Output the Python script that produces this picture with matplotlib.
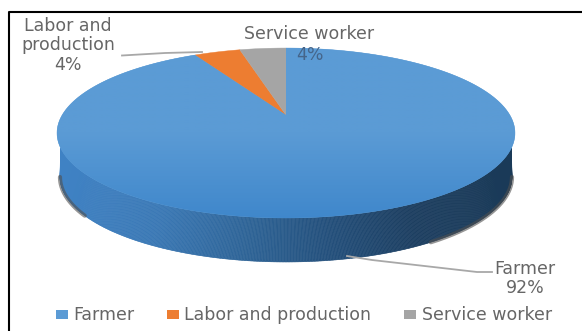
import matplotlib
matplotlib.use("Agg")
import matplotlib.pyplot as plt
import numpy as np
from matplotlib.collections import PolyCollection
from matplotlib.colors import LinearSegmentedColormap
from matplotlib.patches import Polygon, Rectangle

categories = ["Farmer", "Labor and production", "Service worker"]
shares = [92, 4, 4]
colors = ["#5b9bd5", "#ed7d31", "#a5a5a5"]

TEXT = "#666666"
LEADER = "#a8a8a8"
FONT_SIZE = 12.5

# tilted pie geometry, in pixels
CX, APEX_Y = 286, 115
TILT_K, TILT_A, TILT_B = 0.2118, -56.8, 223.8
DEPTH = 44
BASE_SCALE = 0.987


def rim(theta):
    # theta is clockwise from 12 o'clock, in radians
    w = 1 + TILT_K * np.cos(theta)
    x = CX + TILT_B * np.sin(theta) / w
    y = (APEX_Y + TILT_A * np.cos(theta)) / w
    return x, y


fig = plt.figure(figsize=(5.82, 3.31), dpi=100)
ax = fig.add_axes([0, 0, 1, 1])
ax.set_xlim(0, 582)
ax.set_ylim(331, 0)
ax.axis("off")
plt.rcParams["font.family"] = ["DejaVu Sans"]

# frame only runs along the top and left
ax.plot([582, 8.5, 8.5], [11.5, 11.5, 331], color="black", lw=1.5)

# side wall, shaded left to right; the upper edge starts lower on the rim so the ends taper
wall_cmap = LinearSegmentedColormap.from_list(
    "wall", ["#3f82c4", "#3a78b5", "#2f6598", "#24507c", "#1c3e60", "#1a3a58"])
base_start = np.arccos(-TILT_K)
rim_start = np.arccos(-0.374)
n = 500
xs, ys = rim(np.linspace(rim_start, 2 * np.pi - rim_start, n))
bx, by = rim(np.linspace(base_start, 2 * np.pi - base_start, n))
xb = CX + BASE_SCALE * (bx - CX)
yb = by + DEPTH
quads = [[(xs[i], ys[i]), (xs[i + 1], ys[i + 1]),
          (xb[i + 1], yb[i + 1]), (xb[i], yb[i])]
         for i in range(n - 1)]
shade = (xb[:-1] - xb.min()) / (xb.max() - xb.min())

# soft shadow hugging the lower edge, only toward the two ends
for keep in (xb > 430, xb < 85):
    ax.plot(xb[keep], yb[keep], color="#505050", lw=3, alpha=0.6, solid_capstyle="round")
ax.add_collection(PolyCollection(quads, array=shade, cmap=wall_cmap,
                                 edgecolors="face", linewidths=0.4))

# top face, slices run clockwise from 12 o'clock
edges = np.cumsum([0] + shares) / sum(shares) * 2 * np.pi
for a, b, c in zip(edges[:-1], edges[1:], colors):
    th = np.linspace(a, b, 300)
    x, y = rim(th)
    pts = np.column_stack([np.r_[CX, x], np.r_[APEX_Y, y]])
    ax.add_patch(Polygon(pts, closed=True, fc=c, ec=c, lw=0.3))

# the large slice darkens a little toward the front edge
th = np.linspace(edges[0], edges[1], 400)
x, y = rim(th)
wedge = Polygon(np.column_stack([np.r_[CX, x], np.r_[APEX_Y, y]]), closed=True,
                fc="none", ec="none", transform=ax.transData)
ax.add_patch(wedge)
face_cmap = LinearSegmentedColormap.from_list("face", ["#5b9bd5", "#5b9bd5", "#3f87cb"])
im = ax.imshow(np.linspace(0, 1, 200)[:, None], cmap=face_cmap, extent=(50, 520, 220, 45),
               aspect="auto", zorder=1.5)
im.set_clip_path(wedge)
ax.set_xlim(0, 582)
ax.set_ylim(331, 0)


# data labels with leader lines
def pct(i):
    return f"{shares[i]}%"


ax.plot([122, 165, 202], [55.5, 53, 52], color=LEADER, lw=1.3, zorder=3)
ax.text(68, 45.5, "Labor and\nproduction\n" + pct(1), color=TEXT, fontsize=FONT_SIZE,
        ha="center", va="center", linespacing=1.12, zorder=4)
ax.text(309, 34, categories[2], color=TEXT, fontsize=FONT_SIZE, ha="center", va="center", zorder=4)
ax.text(310, 55, pct(2), color="#45658a", fontsize=FONT_SIZE, ha="center", va="center", zorder=4)
ax.plot([347, 372, 477, 492], [256, 260, 272, 272], color=LEADER, lw=1.3, zorder=3)
ax.text(525, 278.5, categories[0] + "\n" + pct(0), color=TEXT, fontsize=FONT_SIZE,
        ha="center", va="center", linespacing=1.12, zorder=4)

# legend row
legend_items = [(56, 73), (167, 184), (404, 422)]
for (box_x, text_x), name, c in zip(legend_items, categories, colors):
    ax.add_patch(Rectangle((box_x, 310), 12, 9, fc=c, ec="none"))
    ax.text(text_x, 315, name, color=TEXT, fontsize=FONT_SIZE, ha="left", va="center")

fig.savefig("out.png", dpi=100)
